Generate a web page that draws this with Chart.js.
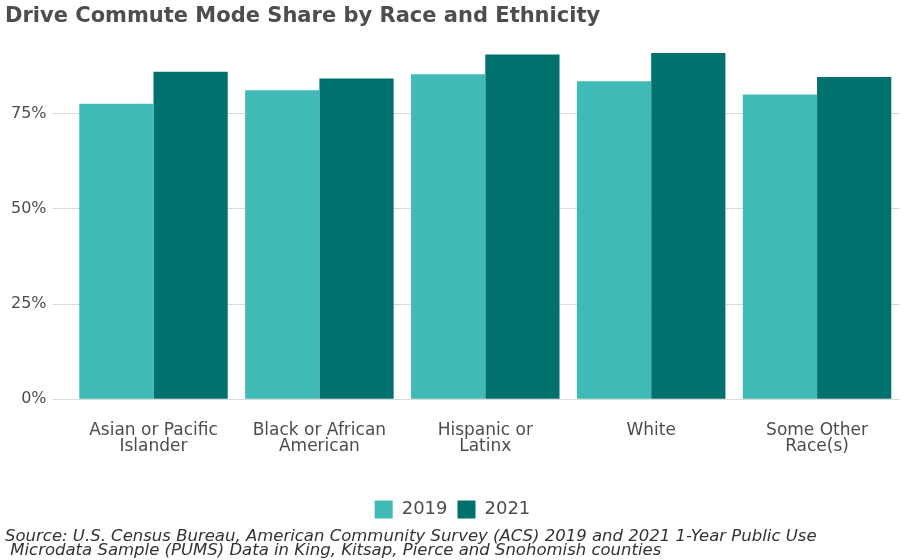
<!DOCTYPE html>
<html>
<head>
<meta charset="utf-8">
<script src="https://cdn.jsdelivr.net/npm/chart.js@4"></script>
<style>
  body { margin: 0; background: #fff; }
  #wrap { width: 919px; height: 560px; }
</style>
</head>
<body>
<div id="wrap"><canvas id="commuteChart" width="919" height="560"></canvas></div>
<script>
// drive share of commutes, percent
var categories = [
    ['Asian or Pacific', 'Islander'],
    ['Black or African', 'American'],
    ['Hispanic or', 'Latinx'],
    'White',
    ['Some Other', 'Race(s)']
];
var share2019 = [77.6, 81.1, 85.3, 83.5, 80.0];
var share2021 = [86.0, 84.2, 90.5, 90.9, 84.6];
var yTicks = [0, 25, 50, 75];

var FONT = "'DejaVu Sans', sans-serif";
var TEXT = '#4d4d4d';

var ctx = document.getElementById('commuteChart').getContext('2d');
var commuteChart = new Chart(ctx, {
    type: 'bar',
    data: {
        labels: categories,
        datasets: [{
            label: '2019',
            data: share2019,
            backgroundColor: '#40bab5',
            barPercentage: 1,
            categoryPercentage: 0.895
        }, {
            label: '2021',
            data: share2021,
            backgroundColor: '#00716c',
            barPercentage: 1,
            categoryPercentage: 0.895
        }]
    },
    options: {
        responsive: false,
        animation: false,
        layout: { padding: { left: 5, right: 19, top: 4, bottom: 0 } },
        plugins: {
            title: {
                display: true,
                text: 'Drive Commute Mode Share by Race and Ethnicity',
                align: 'start',
                color: '#4d4d4d',
                font: { family: FONT, size: 21, weight: 'bold' },
                padding: { top: 0, bottom: 12 }
            },
            subtitle: {
                display: true,
                position: 'bottom',
                align: 'start',
                text: [
                    'Source: U.S. Census Bureau, American Community Survey (ACS) 2019 and 2021 1-Year Public Use',
                    ' Microdata Sample (PUMS) Data in King, Kitsap, Pierce and Snohomish counties'
                ],
                color: '#333',
                font: { family: FONT, size: 16.5, style: 'italic', lineHeight: 0.8 },
                padding: { top: 2, bottom: 3 }
            },
            legend: {
                position: 'bottom',
                labels: {
                    color: TEXT,
                    font: { family: FONT, size: 18 },
                    boxWidth: 18,
                    boxHeight: 18,
                    padding: 10
                }
            },
            tooltip: { enabled: false }
        },
        scales: {
            x: {
                grid: { display: false },
                border: { display: false },
                // leave room between the labels and the legend
                afterFit: function(scale) { scale.height += 21; },
                ticks: {
                    color: TEXT,
                    font: { family: FONT, size: 17, lineHeight: 0.95 },
                    maxRotation: 0,
                    padding: 15
                }
            },
            y: {
                min: 0,
                max: 94,
                afterBuildTicks: function(scale) {
                    scale.ticks = yTicks.map(function(v) { return { value: v }; });
                },
                grid: { color: '#d9d9d9', tickLength: 18, tickColor: '#d9d9d9' },
                border: { display: false },
                ticks: {
                    color: TEXT,
                    font: { family: FONT, size: 16 },
                    padding: 6,
                    callback: function(v) { return v + '%'; }
                }
            }
        }
    }
});
</script>
</body>
</html>
